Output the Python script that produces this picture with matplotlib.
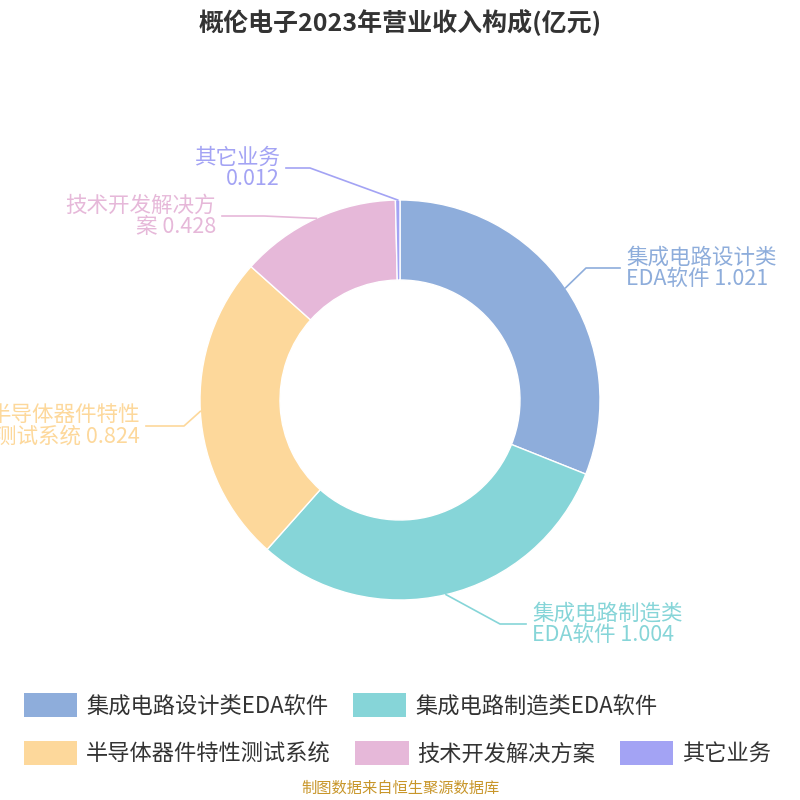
import matplotlib
matplotlib.use("Agg")
import matplotlib.pyplot as plt
import numpy as np
from matplotlib.patches import Patch

plt.rcParams['font.family'] = ['Noto Sans CJK SC', 'DejaVu Sans']

categories = ["集成电路设计类EDA软件", "集成电路制造类EDA软件", "半导体器件特性测试系统", "技术开发解决方案", "其它业务"]
values = [1.021, 1.004, 0.824, 0.428, 0.012]
label_texts = ["集成电路设计类\nEDA软件 1.021", "集成电路制造类\nEDA软件 1.004", "半导体器件特性\n测试系统 0.824", "技术开发解决方\n案 0.428", "其它业务\n0.012"]
colors = ["#8eaddb", "#86d5d8", "#fdd89b", "#e6b8d9", "#a3a3f4"]

fig = plt.figure(figsize=(8, 8), dpi=100)
ax = fig.add_axes([0.25, 0.25, 0.5, 0.5])
wedges, _ = ax.pie(values, colors=colors, startangle=90, counterclock=False,
                   radius=1, wedgeprops=dict(width=0.4, edgecolor='white', linewidth=1))
ax.set_xlim(-1, 1); ax.set_ylim(-1, 1); ax.set_aspect('equal'); ax.axis('off')

elbows = [(0.93, 0.66), (0.5, -1.12), (-1.08, -0.13), (-0.68, 0.92), (-0.45, 1.16)]
texts = [(1.13, 0.66), (0.66, -1.12), (-1.3, -0.13), (-0.92, 0.92), (-0.6, 1.16)]
for w, c, lt, el, tp in zip(wedges, colors, label_texts, elbows, texts):
    ang = np.deg2rad((w.theta1 + w.theta2) / 2)
    p0 = (np.cos(ang), np.sin(ang))
    xe, ye = el
    xt = tp[0] - 0.03 if tp[0] > 0 else tp[0] + 0.03
    ax.plot([p0[0], xe, xt], [p0[1], ye, ye], color=c, lw=1.2, clip_on=False)
    ax.text(tp[0], tp[1], lt, color=c, fontsize=15.5, ha='left' if tp[0] > 0 else 'right',
            va='center', linespacing=0.95, clip_on=False)

fig.text(0.5, 0.972, "概伦电子2023年营业收入构成(亿元)", ha='center', va='center',
         fontsize=18, fontweight='bold', color='#333333')

handles = [Patch(facecolor=c, edgecolor='none') for c in colors]
kw = dict(frameon=False, fontsize=16, handlelength=2.4, handleheight=1.3,
          handletextpad=0.4, columnspacing=1.1, labelcolor='#333333', loc='center left')
fig.legend(handles[:2], categories[:2], ncol=2, bbox_to_anchor=(0.005, 1 - 705 / 800), **kw)
fig.legend(handles[2:], categories[2:], ncol=3, bbox_to_anchor=(0.005, 1 - 753 / 800), **kw)

fig.text(0.5, 1 - 788 / 800, "制图数据来自恒生聚源数据库", ha='center', va='center',
         fontsize=11, color='#c8962a')

fig.savefig("out.png", dpi=100)
